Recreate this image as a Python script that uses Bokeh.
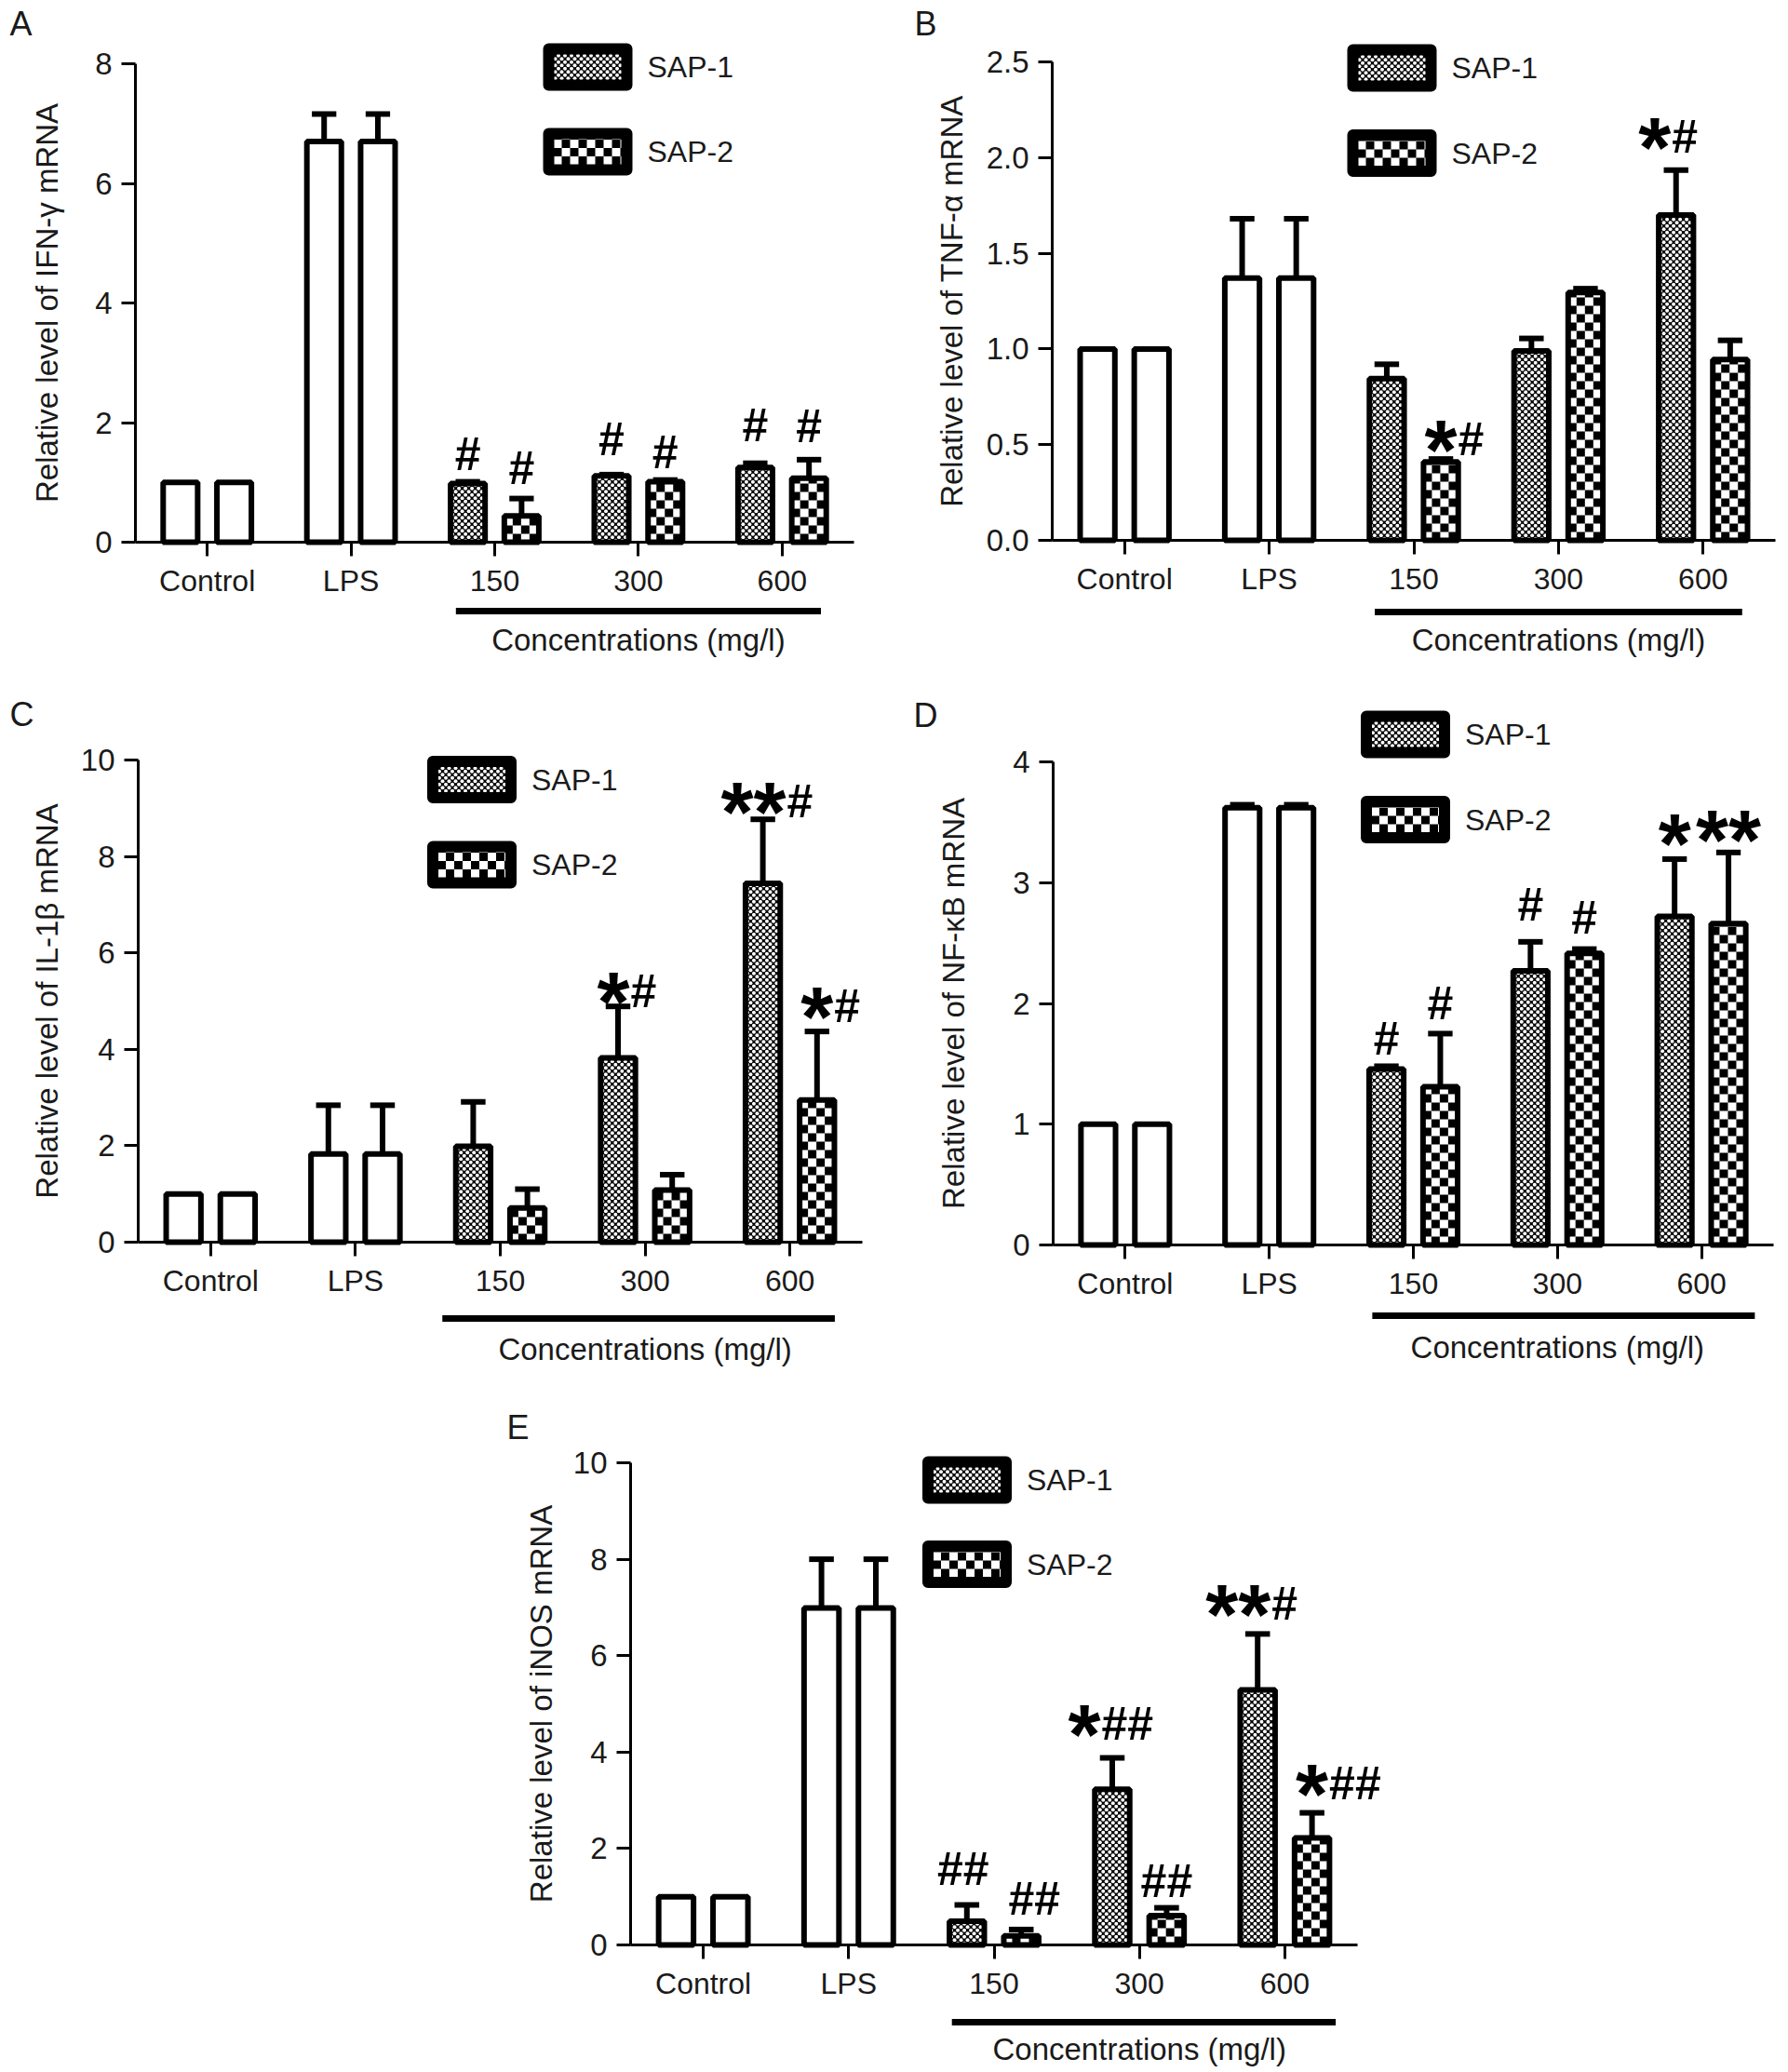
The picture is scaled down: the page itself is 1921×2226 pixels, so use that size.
import math
from bokeh.plotting import figure
from bokeh.models import (Range1d, LinearAxis, FixedTicker, NumeralTickFormatter, ColumnDataSource, Spacer)
from bokeh.layouts import row, column
from bokeh.embed import file_html
from bokeh.resources import INLINE
from bokeh.core.properties import value

FONT = "Liberation Sans"

categories = ["Control", "LPS", "150", "300", "600"]
group_label = "Concentrations (mg/l)"
series_names = ["SAP-1", "SAP-2"]

# (A) IFN-gamma
ifn_sap1 = [1.00, 6.70, 0.98, 1.11, 1.25]
ifn_sap1_sd = [0.00, 0.46, 0.03, 0.02, 0.07]
ifn_sap2 = [1.00, 6.70, 0.44, 1.01, 1.07]
ifn_sap2_sd = [0.00, 0.46, 0.29, 0.03, 0.31]
ifn_marks = [(2, 0, "", "#", 1.47), (2, 1, "", "#", 1.23), (3, 0, "", "#", 1.72),
             (3, 1, "", "#", 1.50), (4, 0, "", "#", 1.95), (4, 1, "", "#", 1.93)]

# (B) TNF-alpha
tnf_sap1 = [1.00, 1.37, 0.845, 0.99, 1.70]
tnf_sap1_sd = [0.00, 0.31, 0.075, 0.065, 0.235]
tnf_sap2 = [1.00, 1.37, 0.41, 1.295, 0.945]
tnf_sap2_sd = [0.00, 0.31, 0.015, 0.02, 0.10]
tnf_marks = [(2, 1, "*", "#", 0.53), (4, 0, "*", "#", 2.11)]

# (C) IL-1beta
il_sap1 = [1.00, 1.83, 1.99, 3.82, 7.44]
il_sap1_sd = [0.00, 1.01, 0.92, 1.07, 1.33]
il_sap2 = [1.00, 1.83, 0.71, 1.08, 2.95]
il_sap2_sd = [0.00, 1.01, 0.39, 0.32, 1.42]
il_marks = [(3, 0, "*", "#", 5.2), (4, 0, "**", "#", 9.15), (4, 1, "*", "#", 4.9)]

# (D) NF-kB
nf_sap1 = [1.00, 3.62, 1.457, 2.27, 2.72]
nf_sap1_sd = [0.00, 0.025, 0.023, 0.24, 0.475]
nf_sap2 = [1.00, 3.62, 1.31, 2.415, 2.66]
nf_sap2_sd = [0.00, 0.025, 0.44, 0.035, 0.59]
nf_marks = [(2, 0, "", "#", 1.71), (2, 1, "", "#", 2.00), (3, 0, "", "#", 2.82),
            (3, 1, "", "#", 2.71), (4, 0, "*", "", 3.41), (4, 1, "**", "", 3.44)]

# (E) iNOS
inos_sap1 = [1.00, 6.99, 0.49, 3.23, 5.29]
inos_sap1_sd = [0.00, 1.01, 0.34, 0.65, 1.16]
inos_sap2 = [1.00, 6.99, 0.19, 0.61, 2.22]
inos_sap2_sd = [0.00, 1.01, 0.13, 0.16, 0.52]
inos_marks = [(2, 0, "", "##", 1.58), (2, 1, "", "##", 0.96), (3, 0, "*", "##", 4.58),
              (3, 1, "", "##", 1.32), (4, 0, "**", "#", 7.08), (4, 1, "*", "##", 3.34)]

DODGE = 0.187
BAR_W = 0.24
BAR_LW = 6
CAP = 0.085
STAR_SIZE = 90
STAR_W = 0.389 * STAR_SIZE
HASH_SIZE = 50
TXT = "#1a1a1a"
DSX, DSY, DOT_D = 7.0, 3.5, 4.0     # dotted texture (SAP-1), px
CHK = 9.0                            # checker texture (SAP-2), px


def make_panel(letter, ylabel, ymax, yticks, yfmt, s1, s1sd, s2, s2sd, marks, geo):
    cx0, cy0, cw, ch = geo["canvas"]
    L, R = geo["axis_x"]
    zero, top = geo["zero"], geo["top"]
    ux = (R - L) / 5.0
    u = (zero - top) / ymax

    def X(px):
        return -0.5 + (px - L) / ux

    def Y(py):
        return (zero - py) / u

    p = figure(width=cw, height=ch, x_range=Range1d(X(cx0), X(cx0 + cw)),
               y_range=Range1d(Y(cy0 + ch), Y(cy0)),
               x_axis_type=None, y_axis_type=None, toolbar_location=None,
               output_backend="svg", min_border=0)
    p.outline_line_color = None
    p.background_fill_color = "white"
    p.border_fill_color = "white"

    dots = dict(x=[], y=[])
    cells = dict(l=[], r=[], b=[], t=[])

    def add_dots(xl, xr, yb, yt):
        wpx, hpx = (xr - xl) * ux, (yt - yb) * u
        j = 0
        while (j + 0.5) * DSY <= hpx:
            ypx = (j + 0.5) * DSY
            xpx = 2.0 + (j % 2) * DSX / 2
            while xpx <= wpx - 1.0:
                dots["x"].append(xl + xpx / ux)
                dots["y"].append(yb + ypx / u)
                xpx += DSX
            j += 1

    def add_checker(xl, xr, yb, yt):
        qx, qy = CHK / ux, CHK / u
        j = 0
        while yb + j * qy < yt:
            i = 0
            while xl + i * qx < xr:
                if (i + j) % 2 == 1:
                    cells["l"].append(xl + i * qx)
                    cells["r"].append(min(xl + (i + 1) * qx, xr))
                    cells["b"].append(yb + j * qy)
                    cells["t"].append(min(yb + (j + 1) * qy, yt))
                i += 1
            j += 1

    # ---- bars
    outlines = []
    for k, (vals, sds) in enumerate([(s1, s1sd), (s2, s2sd)]):
        off = -DODGE if k == 0 else DODGE
        xs = [i + off for i in range(len(categories))]
        open_src = ColumnDataSource(dict(x=xs[:2], top=vals[:2]))
        pat_src = ColumnDataSource(dict(x=xs[2:], top=vals[2:]))
        p.vbar(x="x", top="top", bottom=0, width=BAR_W, source=open_src,
               fill_color="white", line_color="black", line_width=BAR_LW)
        p.vbar(x="x", top="top", bottom=0, width=BAR_W, source=pat_src,
               fill_color="black" if k == 0 else "white", line_color=None)
        for x, v in zip(xs[2:], vals[2:]):
            if k == 0:
                add_dots(x - BAR_W / 2, x + BAR_W / 2, 0, v)
            else:
                add_checker(x - BAR_W / 2, x + BAR_W / 2, 0, v)
        outlines.append(pat_src)

    # ---- legend boxes (drawn in the plot area)
    for k, (lcx, lcy) in enumerate(geo["legend"]):
        p.quad(left=[X(lcx - 42)], right=[X(lcx + 42)], top=[Y(lcy - 19.5)],
               bottom=[Y(lcy + 19.5)], fill_color="black" if k == 0 else "white",
               line_color=None)
        if k == 0:
            add_dots(X(lcx - 37), X(lcx + 37), Y(lcy + 14), Y(lcy - 14))
        else:
            add_checker(X(lcx - 37), X(lcx + 37), Y(lcy + 14), Y(lcy - 14))
        p.text(x=[X(lcx + 64)], y=[Y(lcy)], text=[series_names[k]], text_align="left",
               text_baseline="middle", text_font=value(FONT), text_font_size="32px",
               text_color=TXT)

    p.scatter(x=dots["x"], y=dots["y"], size=DOT_D, marker="circle",
              fill_color="white", line_color=None)
    p.quad(left=cells["l"], right=cells["r"], bottom=cells["b"], top=cells["t"],
           fill_color="black", line_color=None)

    for src in outlines:
        p.vbar(x="x", top="top", bottom=0, width=BAR_W, source=src,
               fill_color=None, line_color="black", line_width=BAR_LW)
    for k, (lcx, lcy) in enumerate(geo["legend"]):
        p.quad(left=[X(lcx - 42)], right=[X(lcx + 42)], top=[Y(lcy - 19.5)],
               bottom=[Y(lcy + 19.5)], fill_color=None, line_color="black",
               line_width=12, line_join="round")

    # ---- error bars
    for k, (vals, sds) in enumerate([(s1, s1sd), (s2, s2sd)]):
        off = -DODGE if k == 0 else DODGE
        xs = [i + off for i in range(len(categories))]
        ex = [x for x, s in zip(xs, sds) if s > 0]
        ev = [v for v, s in zip(vals, sds) if s > 0]
        eu = [v + s for v, s in zip(vals, sds) if s > 0]
        esrc = ColumnDataSource(dict(x=ex, v=ev, u=eu,
                                     xl=[x - CAP for x in ex], xr=[x + CAP for x in ex]))
        p.segment(x0="x", y0="v", x1="x", y1="u", source=esrc, line_color="black", line_width=6)
        p.segment(x0="xl", y0="u", x1="xr", y1="u", source=esrc, line_color="black",
                  line_width=6, line_cap="butt")

    # ---- significance marks (horizontal nudges given in px, converted to data units)
    nudges = geo.get("mark_dx", {})
    st = dict(x=[], y=[], text=[])
    hl = dict(x=[], y=[], text=[])
    hc = dict(x=[], y=[], text=[])
    for m, (ci, si, stars, hashes, lvl) in enumerate(marks):
        xc = ci + (-DODGE if si == 0 else DODGE) + nudges.get(m, 0) / ux
        if stars:
            st["x"].append(xc); st["y"].append(lvl); st["text"].append(stars)
        if hashes:
            if stars:
                hl["x"].append(xc + (len(stars) * STAR_W / 2 + 1) / ux)
                hl["y"].append(lvl); hl["text"].append(hashes)
            else:
                hc["x"].append(xc); hc["y"].append(lvl); hc["text"].append(hashes)
    if st["x"]:
        p.text(x="x", y="y", text="text", source=ColumnDataSource(st), text_align="center",
               text_baseline="middle", text_font=value(FONT),
               text_font_style="bold", text_font_size=f"{STAR_SIZE}px", y_offset=12,
               text_color="black")
    hash_style = dict(text_font=value(FONT), text_font_style="bold", text_color="black",
                      text_baseline="middle", text_font_size=f"{HASH_SIZE}px")
    if hl["x"]:
        p.text(x="x", y="y", text="text", source=ColumnDataSource(hl), text_align="left",
               **hash_style)
    if hc["x"]:
        p.text(x="x", y="y", text="text", source=ColumnDataSource(hc), text_align="center",
               **hash_style)

    # ---- group bracket and label
    ul0, ul1 = geo["under"]
    yu = -geo["under_dy"] / u
    p.segment(x0=[ul0], y0=[yu], x1=[ul1], y1=[yu], line_color="black", line_width=7)
    p.text(x=[(2 + 4) / 2], y=[-geo["conc_dy"] / u], text=[group_label], text_align="center",
           text_baseline="middle", text_font=value(FONT), text_font_size="33px", text_color=TXT)

    # ---- y label and panel letter
    p.text(x=[X(geo["ylab_x"])], y=[ymax / 2], text=[ylabel], angle=math.pi / 2,
           text_align="center", text_baseline="middle", text_font=value(FONT),
           text_font_size="33px", text_color=TXT)
    lx, ly = geo["letter"]
    p.text(x=[X(lx)], y=[Y(ly)], text=[letter], text_align="center", text_baseline="middle",
           text_font=value(FONT), text_font_size="36px", text_color=TXT)

    # ---- axes
    yaxis = LinearAxis(fixed_location=-0.5, bounds=(0, ymax), ticker=FixedTicker(ticks=yticks))
    if yfmt:
        yaxis.formatter = NumeralTickFormatter(format=yfmt)
    xaxis = LinearAxis(fixed_location=0, bounds=(-0.5, 4.5),
                       ticker=FixedTicker(ticks=list(range(len(categories)))),
                       major_label_overrides={i: c for i, c in enumerate(categories)})
    for ax in (yaxis, xaxis):
        ax.axis_line_width = 3
        ax.axis_line_color = "black"
        ax.major_tick_line_width = 3
        ax.major_tick_line_color = "black"
        ax.major_tick_out = 15
        ax.major_tick_in = 0
        ax.minor_tick_line_color = None
        ax.major_label_text_font = FONT
        ax.major_label_text_color = TXT
    yaxis.major_label_text_font_size = "33px"
    yaxis.major_label_standoff = 10
    xaxis.major_label_text_font_size = "32px"
    xaxis.major_label_standoff = 8
    p.add_layout(yaxis, "left")
    p.add_layout(xaxis, "below")
    return p


geoA = dict(canvas=(0, 0, 980, 734), axis_x=(145, 917), zero=582, top=68,
            under=(1.73, 4.27), under_dy=74, conc_dy=105, ylab_x=50,
            legend=[(631, 71.5), (631, 162.5)], letter=(22, 25))
geoB = dict(canvas=(980, 0, 940, 734), axis_x=(1130, 1907), zero=580, top=66,
            under=(1.73, 4.27), under_dy=77, conc_dy=107, ylab_x=1022,
            legend=[(1495, 72.5), (1495, 164)], letter=(994, 25),
            mark_dx={1: -23})
geoC = dict(canvas=(0, 734, 980, 748), axis_x=(148, 926), zero=1334, top=816,
            under=(1.60, 4.31), under_dy=82, conc_dy=115, ylab_x=50,
            legend=[(506.5, 837), (506.5, 928.5)], letter=(23, 767),
            mark_dx={0: -5, 1: -10})
geoD = dict(canvas=(980, 734, 940, 748), axis_x=(1131, 1905), zero=1337, top=818,
            under=(1.715, 4.37), under_dy=76, conc_dy=110, ylab_x=1024,
            legend=[(1509.5, 788.5), (1509.5, 880)], letter=(994, 768))
geoE = dict(canvas=(500, 1482, 1000, 742), axis_x=(677, 1458), zero=2089, top=1571,
            under=(1.71, 4.35), under_dy=83, conc_dy=112, ylab_x=581,
            legend=[(1038.5, 1589.5), (1038.5, 1680)], letter=(556, 1533),
            mark_dx={0: -4, 1: 14, 2: -30, 4: -21})

pA = make_panel("A", "Relative level of IFN-γ mRNA", 8, [0, 2, 4, 6, 8], None,
                ifn_sap1, ifn_sap1_sd, ifn_sap2, ifn_sap2_sd, ifn_marks, geoA)
pB = make_panel("B", "Relative level of TNF-α mRNA", 2.5, [0, 0.5, 1.0, 1.5, 2.0, 2.5], "0.0",
                tnf_sap1, tnf_sap1_sd, tnf_sap2, tnf_sap2_sd, tnf_marks, geoB)
pC = make_panel("C", "Relative level of IL-1β mRNA", 10, [0, 2, 4, 6, 8, 10], None,
                il_sap1, il_sap1_sd, il_sap2, il_sap2_sd, il_marks, geoC)
pD = make_panel("D", "Relative level of NF-κB mRNA", 4, [0, 1, 2, 3, 4], None,
                nf_sap1, nf_sap1_sd, nf_sap2, nf_sap2_sd, nf_marks, geoD)
pE = make_panel("E", "Relative level of iNOS mRNA", 10, [0, 2, 4, 6, 8, 10], None,
                inos_sap1, inos_sap1_sd, inos_sap2, inos_sap2_sd, inos_marks, geoE)

layout = column(row(pA, pB), row(pC, pD), row(Spacer(width=500, height=742), pE))

with open("out.html", "w") as f:
    f.write(file_html(layout, INLINE))
